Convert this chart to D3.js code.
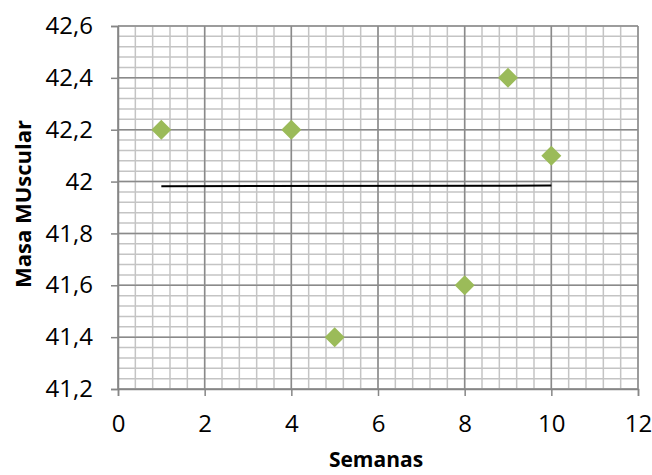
<!DOCTYPE html>
<html>
<head>
<meta charset="utf-8">
<script src="https://cdn.jsdelivr.net/npm/d3@7"></script>
<style>
  html, body { margin: 0; padding: 0; background: #fff; }
  svg { display: block; }
  text { font-family: "Open Sans", "Liberation Sans", sans-serif; fill: #000; }
</style>
</head>
<body>
<svg id="chart" width="652" height="475"></svg>
<script>
// Weekly muscle-mass readings
const semanas = [1, 4, 5, 8, 9, 10];
const masa = [42.2, 42.2, 41.4, 41.6, 42.4, 42.1];

const xTicks = [0, 2, 4, 6, 8, 10, 12];
const yTicks = [41.2, 41.4, 41.6, 41.8, 42.0, 42.2, 42.4, 42.6];

const svg = d3.select("#chart");
const plotL = 118, plotR = 638, plotT = 26, plotB = 389;

const x = d3.scaleLinear().domain([0, 12]).range([plotL, plotR]);
const y = d3.scaleLinear().domain([41.2, 42.6]).range([plotB, plotT]);

const fmt = v => (Math.round(v * 10) / 10).toString().replace(".", ",");

// minor grid
const xMinor = d3.range(0, 12.0001, 0.4);
const yMinor = d3.range(41.2, 42.6001, 0.04);
const grid = svg.append("g");
grid.selectAll("line.xm").data(xMinor).join("line")
  .attr("x1", d => x(d)).attr("x2", d => x(d))
  .attr("y1", plotT).attr("y2", plotB)
  .attr("stroke", "#c4c4c4").attr("stroke-width", 1.5);
grid.selectAll("line.ym").data(yMinor).join("line")
  .attr("y1", d => y(d)).attr("y2", d => y(d))
  .attr("x1", plotL).attr("x2", plotR)
  .attr("stroke", "#c4c4c4").attr("stroke-width", 1.5);

// major grid
grid.selectAll("line.xM").data(xTicks).join("line")
  .attr("x1", d => x(d)).attr("x2", d => x(d))
  .attr("y1", plotT).attr("y2", plotB)
  .attr("stroke", "#8a8a8a").attr("stroke-width", 1.5);
grid.selectAll("line.yM").data(yTicks).join("line")
  .attr("y1", d => y(d)).attr("y2", d => y(d))
  .attr("x1", plotL).attr("x2", plotR)
  .attr("stroke", "#8a8a8a").attr("stroke-width", 1.5);

// axes
const xAxis = svg.append("g").attr("transform", `translate(0,${plotB})`)
  .call(d3.axisBottom(x).tickValues(xTicks).tickFormat(d => d).tickSize(7).tickPadding(19));
const yAxis = svg.append("g").attr("transform", `translate(${plotL},0)`)
  .call(d3.axisLeft(y).tickValues(yTicks).tickFormat(fmt).tickSize(7).tickPadding(18));
[xAxis, yAxis].forEach(a => {
  a.select(".domain").attr("stroke", "#868686").attr("stroke-width", 1.5);
  a.selectAll(".tick line").attr("stroke", "#868686").attr("stroke-width", 1.5);
  a.selectAll(".tick text").style("font-size", "24px")
    .style("font-family", "'Open Sans', sans-serif").attr("fill", "#000");
});

// linear trend line across the observed weeks
const mx = d3.mean(semanas), my = d3.mean(masa);
const sxy = d3.sum(semanas, (d, i) => (d - mx) * (masa[i] - my));
const sxx = d3.sum(semanas, d => (d - mx) * (d - mx));
const slope = sxy / sxx, icpt = my - slope * mx;
const x0 = d3.min(semanas), x1 = d3.max(semanas);
svg.append("line")
  .attr("x1", x(x0)).attr("y1", y(icpt + slope * x0))
  .attr("x2", x(x1)).attr("y2", y(icpt + slope * x1))
  .attr("stroke", "#000").attr("stroke-width", 2);

// diamond markers
const diamond = d3.symbol().type(d3.symbolSquare).size(200);
svg.append("g").selectAll("path").data(semanas).join("path")
  .attr("d", diamond)
  .attr("transform", (d, i) => `translate(${x(d)},${y(masa[i])}) rotate(45)`)
  .attr("fill", "#9bbb59");

// axis titles
svg.append("text")
  .attr("x", 376).attr("y", 467)
  .attr("text-anchor", "middle")
  .style("font-size", "21px").style("font-weight", "bold")
  .text("Semanas");
svg.append("text")
  .attr("transform", `translate(31,204) rotate(-90)`)
  .attr("text-anchor", "middle")
  .style("font-size", "22px").style("font-weight", "bold")
  .text("Masa MUscular");
</script>
</body>
</html>
